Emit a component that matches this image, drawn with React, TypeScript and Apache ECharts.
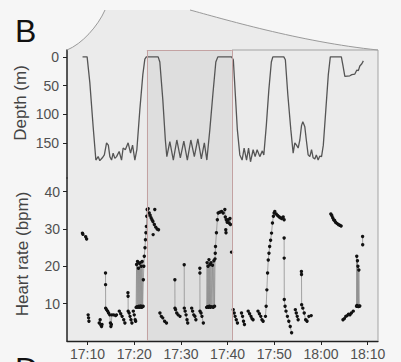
import React, { useEffect, useRef } from "react";
import * as echarts from "echarts";

// ---- axis ticks (minutes after 17:00) ----
const xTickValues = [10, 20, 30, 40, 50, 60, 70];
const xTickLabels = ["17:10", "17:20", "17:30", "17:40", "17:50", "18:00", "18:10"];
const depthTicks = [0, 50, 100, 150];
const hrTicks = [10, 20, 30, 40];
const highlightWindow = [22.7, 40.9];

// ---- depth profile [minute, depth m] ----
const dive1 = [
  [8.93, 0], [9.91, 0], [10.49, 45], [11.2, 122], [11.78, 180], [12.27, 174], [12.63, 181], [13.17, 176],
  [13.6, 171], [14.07, 150], [14.45, 154], [14.78, 174], [15.14, 180], [15.48, 168], [15.85, 177], [16.21, 174],
  [16.77, 165], [17.28, 180], [17.62, 159], [18.09, 162], [18.69, 150], [19.21, 168], [19.64, 154], [20.13, 180],
  [20.56, 162], [21.2, 92], [21.84, 31], [22.27, 4], [22.59, 0], [25.12, 0],
];
const dive2 = [
  [25.48, 9], [26.12, 75], [26.66, 145], [26.98, 174], [27.62, 148], [28.37, 180], [29.12, 145], [29.87, 176],
  [30.62, 147], [31.37, 180], [32.12, 145], [32.87, 174], [33.62, 143], [34.37, 178], [35.01, 150], [35.55, 180],
  [36.19, 127], [36.83, 66], [37.47, 9], [37.9, 0], [40.84, 0],
];
const dive3 = [
  [41.22, 5], [41.65, 66], [42.08, 127], [42.61, 171], [43.1, 180], [43.53, 159], [44.05, 180], [44.48, 159],
  [44.9, 183], [45.46, 162], [45.89, 174], [46.32, 162], [46.89, 174], [47.43, 164], [47.75, 171], [48.29, 119],
  [48.82, 58], [49.36, 9], [49.68, 0], [52.03, 0],
];
const dive4 = [
  [52.36, 5], [52.89, 66], [53.53, 127], [54.03, 168], [54.39, 150], [54.75, 154], [55.1, 159], [55.46, 145],
  [55.82, 120], [56.1, 113], [56.53, 122], [56.85, 145], [57.24, 171], [57.6, 174], [57.97, 162], [58.31, 176],
  [58.67, 178], [58.99, 171], [59.38, 180], [59.74, 173], [60.11, 174], [60.49, 154], [61.03, 92], [61.56, 31],
  [61.99, 0], [64.35, 0], [64.67, 14], [65.1, 34], [66.17, 33], [66.6, 31], [67.24, 30], [67.67, 23],
  [67.99, 24], [68.31, 16], [68.74, 12], [69.06, 7],
];

// ---- heart rate [minute, bpm], one array per connected run ----
const hrBeforeWindow = [
  [[8.9, 28.9], [9.0, 28.6], [9.6, 27.9], [9.8, 27.3]],
  [[10.13, 7.0], [10.22, 6.2], [10.3, 5.3]],
  [[12.5, 4.8], [12.7, 5.7], [12.85, 4.3], [13.0, 3.9], [13.1, 4.4]],
  [[13.85, 18.2], [13.86, 15.1], [13.88, 8.8], [14.07, 8.4], [14.3, 8.0], [14.5, 7.5], [14.75, 7.0], [14.9, 4.8],
   [15.0, 3.9], [15.1, 4.4], [15.2, 7.0], [15.6, 7.0], [16.0, 6.8], [16.2, 7.0]],
  [[16.8, 8.0], [17.1, 7.3], [17.4, 6.6], [17.75, 5.7], [18.0, 4.8]],
  [[18.65, 12.9], [18.68, 12.0], [18.7, 8.0], [18.9, 7.5], [19.1, 6.6], [19.3, 5.7], [19.5, 4.8]],
  [[19.8, 8.0], [20.0, 7.0], [20.2, 5.7], [20.3, 5.3]],
  [[20.4, 9.0], [20.5, 20.5], [20.6, 9.2], [20.7, 21.3], [20.8, 9.0], [20.9, 19.5], [21.0, 9.3], [21.1, 20.8],
   [21.2, 9.0], [21.3, 21.0], [21.4, 9.4], [21.5, 20.0], [21.6, 9.0], [21.7, 21.3], [21.8, 9.2], [21.9, 9.3],
   [21.95, 16.4], [22.05, 20.0], [22.15, 22.7], [22.3, 25.0], [22.4, 27.1], [22.5, 29.0], [22.6, 30.7],
   [22.68, 33.4], [22.76, 35.2], [22.98, 35.4], [23.2, 34.3], [23.4, 33.7], [23.6, 33.0], [23.8, 32.5],
   [24.0, 32.0], [24.3, 31.2], [24.6, 30.5], [24.9, 30.0], [25.2, 29.8]],
  [[24.05, 28.5]],
  [[24.4, 35.2]],
];
const hrInWindow = [
  [[25.5, 7.5], [25.8, 6.6], [26.1, 6.2], [26.5, 5.3], [26.9, 4.8]],
  [[28.7, 16.4], [28.72, 8.8], [28.85, 8.4], [29.1, 7.5], [29.4, 7.0], [29.8, 6.6]],
  [[30.7, 20.4], [30.72, 8.8], [30.9, 8.0], [31.1, 7.0], [31.3, 5.7], [31.45, 4.8]],
  [[32.3, 8.8], [32.5, 8.0], [32.75, 7.0], [33.0, 6.6], [33.2, 5.7]],
  [[34.05, 19.5], [34.06, 18.2], [34.08, 8.0], [34.3, 7.5], [34.5, 6.6], [34.8, 4.8]],
  [[35.5, 9.0], [35.6, 21.0], [35.7, 9.2], [35.8, 20.0], [35.9, 9.0], [36.0, 21.8], [36.1, 9.3], [36.2, 20.5],
   [36.3, 9.0], [36.45, 21.0], [36.6, 9.2], [36.75, 20.3], [36.9, 9.0], [37.05, 21.5], [37.2, 9.3], [37.3, 22.0],
   [37.35, 23.5], [37.4, 25.3], [37.6, 29.0], [37.8, 32.5], [37.97, 34.3], [38.3, 34.5], [38.7, 34.7], [39.04, 34.3]],
  [[39.4, 35.2], [39.5, 33.2], [39.7, 32.5], [39.9, 31.8], [40.1, 32.5], [40.3, 31.6], [40.5, 32.8], [40.6, 31.2]],
  [[39.6, 29.8], [39.65, 29.0]],
  [[40.83, 23.8]],
];
const hrAfterWindow = [
  [[41.2, 8.4], [41.4, 7.5], [41.6, 6.6], [41.85, 5.7], [42.1, 4.8]],
  [[42.97, 7.5], [43.2, 6.6], [43.4, 5.3], [43.6, 4.4]],
  [[44.4, 8.0], [44.7, 7.3], [45.0, 6.6], [45.2, 6.0], [45.45, 5.7]],
  [[46.5, 8.0], [46.8, 7.3], [47.1, 6.6], [47.35, 5.7], [47.6, 5.3]],
  [[48.1, 6.6], [48.25, 9.3], [48.4, 13.7], [48.55, 18.2], [48.7, 21.7], [48.85, 23.5], [49.0, 25.3], [49.2, 27.0],
   [49.4, 28.9], [49.6, 31.6], [49.8, 33.4], [49.95, 34.3], [50.1, 34.7], [50.4, 34.0], [50.7, 33.6], [51.0, 33.3],
   [51.3, 33.0], [51.6, 32.8], [51.9, 33.2], [52.1, 32.5]],
  [[52.1, 27.6], [52.11, 22.2], [52.13, 11.1], [52.3, 9.3], [52.5, 8.0], [52.8, 6.6], [53.1, 5.3], [53.4, 3.9], [53.7, 2.2]],
  [[54.5, 8.4], [54.7, 7.5], [54.9, 6.6], [55.1, 5.7]],
  [[55.8, 18.6], [55.82, 17.8], [55.85, 9.7], [56.1, 8.8], [56.4, 7.5], [56.7, 5.7], [57.0, 5.3], [57.4, 6.6], [57.9, 6.8]],
  [[62.1, 34.0], [62.3, 33.6], [62.5, 33.0], [62.7, 32.5], [62.9, 32.3], [63.1, 31.8], [63.4, 31.5], [63.7, 31.2],
   [64.0, 31.0], [64.3, 30.8]],
  [[64.7, 5.7], [65.0, 6.0], [65.3, 6.6], [65.6, 6.8], [65.9, 7.2], [66.2, 7.0], [66.5, 7.5], [66.9, 8.0]],
  [[67.6, 9.3], [67.65, 22.7], [67.7, 9.5], [67.8, 21.5], [67.85, 9.3], [67.9, 20.0], [68.0, 9.2], [68.1, 19.0],
   [68.2, 9.3], [68.3, 9.4]],
  [[68.9, 28.0], [68.92, 25.8]],
];

echarts.graphic.registerShape(
  "panelBg",
  echarts.graphic.extendPath(
    "M67,50 C82,44 98,26 105,10 L190,10 C220,18 300,42 378,50 L378,341 L67,341 Z",
    {}
  )
);

const FONT = '"Liberation Sans", Arial, sans-serif';

function joinRuns(runs: number[][][]) {
  const out: any[] = [];
  runs.forEach((run, i) => {
    if (i > 0) out.push([run[0][0], "-"]);
    run.forEach((p) => out.push(p));
  });
  return out;
}

export default function App() {
  const ref = useRef<HTMLDivElement>(null);
  useEffect(() => {
    document.body.style.margin = "0";
    document.body.style.background = "#f6f6f6";
    const chart = echarts.init(ref.current!, undefined, { renderer: "svg" });
    const xMin = 5.6, xMax = 72.2;
    const depthData = [...dive1, ...dive2, ...dive3, ...dive4];
    const hrData = joinRuns([...hrBeforeWindow, ...hrInWindow, ...hrAfterWindow]);
    const tickFmt = (v: number) => {
      const i = xTickValues.indexOf(Math.round(v));
      return i >= 0 ? xTickLabels[i] : "";
    };
    const boxLine = { color: "#c3a2a2", width: 1, type: "solid" as const };
    chart.setOption({
      animation: false,
      backgroundColor: "#f6f6f6",
      grid: [
        { left: 67, right: 23, top: 50, height: 128 },
        { left: 67, right: 23, top: 178, bottom: 21 },
      ],
      xAxis: [
        { type: "value", gridIndex: 0, min: xMin, max: xMax, show: false },
        {
          type: "value", gridIndex: 1, min: xMin, max: xMax,
          axisLine: { show: true, lineStyle: { color: "#222", width: 1.3 } },
          axisTick: { show: true, length: 4, customValues: xTickValues, lineStyle: { color: "#222" } },
          axisLabel: { customValues: xTickValues, formatter: tickFmt, fontSize: 14, color: "#505050", margin: 6, fontFamily: FONT },
          splitLine: { show: false },
        },
      ],
      yAxis: [
        {
          type: "value", gridIndex: 0, inverse: true, min: -12, max: 211.3,
          axisLine: { show: true, lineStyle: { color: "#222", width: 1.5 } },
          axisTick: { show: true, length: 4, customValues: depthTicks, lineStyle: { color: "#222" } },
          axisLabel: { customValues: depthTicks, fontSize: 14, color: "#505050", margin: 8, fontFamily: FONT },
          splitLine: { show: false },
        },
        {
          type: "value", gridIndex: 1, min: 0, max: 43.66,
          axisLine: { show: true, lineStyle: { color: "#222", width: 1.5 } },
          axisTick: { show: true, length: 4, customValues: hrTicks, lineStyle: { color: "#222" } },
          axisLabel: { customValues: hrTicks, fontSize: 14, color: "#505050", margin: 7, fontFamily: FONT },
          splitLine: { show: false },
        },
      ],
      series: [
        {
          type: "line", xAxisIndex: 0, yAxisIndex: 0, data: depthData, showSymbol: false,
          lineStyle: { color: "#555", width: 1.3 },
          markArea: {
            silent: true, itemStyle: { color: "rgba(0,0,0,0.055)" },
            data: [[{ xAxis: highlightWindow[0] }, { xAxis: highlightWindow[1] }]],
          },
          markLine: {
            silent: true, symbol: "none", label: { show: false }, lineStyle: boxLine,
            data: [
              { xAxis: highlightWindow[0] }, { xAxis: highlightWindow[1] },
              [{ coord: [highlightWindow[0], -12] }, { coord: [highlightWindow[1], -12] }],
            ],
          },
        },
        {
          type: "line", xAxisIndex: 1, yAxisIndex: 1, data: hrData, connectNulls: false,
          showSymbol: true, showAllSymbol: true, symbol: "circle", symbolSize: 3.4,
          itemStyle: { color: "#111" },
          lineStyle: { color: "#8f8f8f", width: 0.8 },
          markArea: {
            silent: true, itemStyle: { color: "rgba(0,0,0,0.055)" },
            data: [[{ xAxis: highlightWindow[0] }, { xAxis: highlightWindow[1] }]],
          },
          markLine: {
            silent: true, symbol: "none", label: { show: false }, lineStyle: boxLine,
            data: [{ xAxis: highlightWindow[0] }, { xAxis: highlightWindow[1] }],
          },
        },
      ],
      graphic: [
        { type: "panelBg", x: 0, y: 0, z: -10, silent: true, style: { fill: "#ebebeb", stroke: "none" } },
        {
          type: "bezierCurve", z: 5, silent: true,
          shape: { x1: 67, y1: 50, cpx1: 82, cpy1: 44, cpx2: 98, cpy2: 26, x2: 105, y2: 10 },
          style: { stroke: "#9a9a9a", lineWidth: 1, fill: "none" },
        },
        {
          type: "bezierCurve", z: 5, silent: true,
          shape: { x1: 190, y1: 10, cpx1: 220, cpy1: 18, cpx2: 300, cpy2: 42, x2: 378, y2: 50 },
          style: { stroke: "#9a9a9a", lineWidth: 1, fill: "none" },
        },
        {
          type: "polyline", z: 5, silent: true,
          shape: { points: [[232, 50], [378, 50], [378, 341]] },
          style: { stroke: "#a3a3a3", lineWidth: 1, fill: "none" },
        },
        { type: "text", x: 15, y: 15, z: 5, style: { text: "B", fontSize: 32, fontFamily: FONT, fill: "#111" } },
        { type: "text", x: 15, y: 353, z: 5, style: { text: "D", fontSize: 32, fontFamily: FONT, fill: "#111" } },
        {
          type: "text", x: 20, y: 103, rotation: Math.PI / 2, z: 5,
          style: { text: "Depth (m)", fontSize: 17, fontFamily: FONT, fill: "#444", align: "center", verticalAlign: "middle" },
        },
        {
          type: "text", x: 22, y: 254, rotation: Math.PI / 2, z: 5,
          style: { text: "Heart rate (bpm)", fontSize: 17, fontFamily: FONT, fill: "#444", align: "center", verticalAlign: "middle" },
        },
      ],
    });
    return () => chart.dispose();
  }, []);
  return <div ref={ref} style={{ width: 401, height: 362, overflow: "hidden" }} />;
}
